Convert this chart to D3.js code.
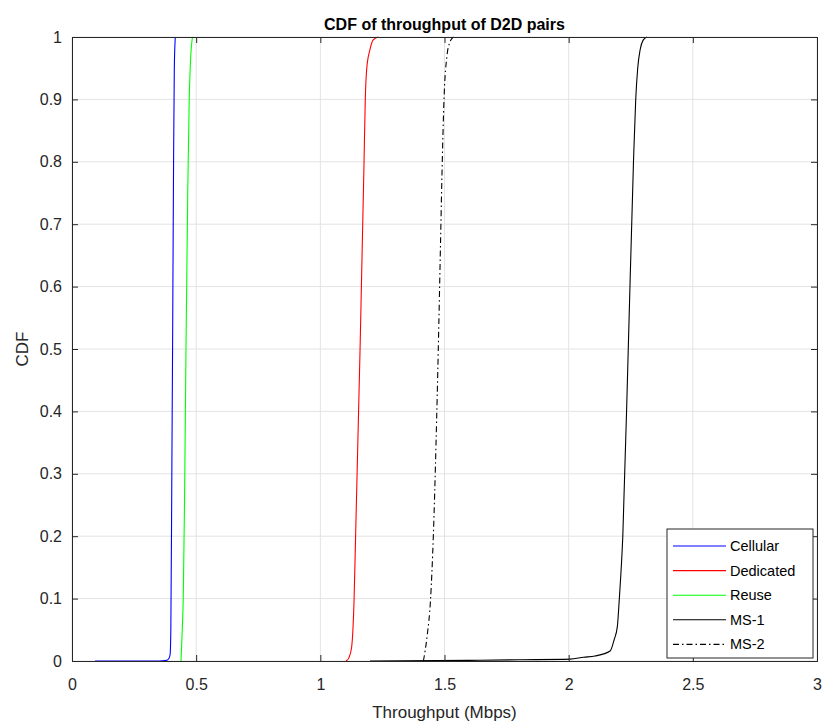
<!DOCTYPE html>
<html>
<head>
<meta charset="utf-8">
<script src="https://cdn.jsdelivr.net/npm/d3@7"></script>
<style>
  body { margin: 0; background: #fff; }
  svg { font-family: "Liberation Sans", Arial, sans-serif; }
</style>
</head>
<body>
<div id="chart"></div>
<script>
// curves: [throughput, cdf]
var cellular = [[0.093, 0], [0.35, 0], [0.38, 0.001], [0.39, 0.004], [0.395, 0.01], [0.398, 0.05],
  [0.402, 0.3], [0.405, 0.5], [0.409, 0.8], [0.412, 0.95], [0.416, 1]]
var reuse = [[0.439, 0], [0.444, 0.05], [0.448, 0.1], [0.453, 0.25], [0.459, 0.5], [0.466, 0.75],
  [0.472, 0.9], [0.477, 0.96], [0.485, 1]]
var dedicated = [[1.103, 0], [1.115, 0.005], [1.126, 0.022], [1.136, 0.1], [1.142, 0.2], [1.151, 0.35],
  [1.160, 0.5], [1.168, 0.65], [1.176, 0.8], [1.181, 0.9], [1.187, 0.95], [1.200, 0.98], [1.212, 0.995], [1.233, 1]]
var ms1 = [[1.2, 0], [1.6, 0.001], [1.8, 0.002], [2.006, 0.003], [2.06, 0.006], [2.106, 0.008], [2.167, 0.016],
  [2.183, 0.034], [2.196, 0.055], [2.204, 0.1], [2.218, 0.2], [2.240, 0.5], [2.261, 0.8], [2.270, 0.9],
  [2.278, 0.95], [2.288, 0.98], [2.30, 0.995], [2.315, 1]]
var ms2 = [[1.415, 0], [1.430, 0.04], [1.444, 0.1], [1.455, 0.2], [1.466, 0.35], [1.475, 0.5], [1.484, 0.67],
  [1.491, 0.8], [1.498, 0.9], [1.51, 0.97], [1.52, 0.99], [1.536, 1]]

var names = ['Cellular', 'Dedicated', 'Reuse', 'MS-1', 'MS-2']
var colors = ['#0000ff', '#ff0000', '#00ff00', '#000000', '#000000']
var dashes = [null, null, null, null, '6,3,1.5,3']
var curves = [cellular, dedicated, reuse, ms1, ms2]

var xTicks = [0, 0.5, 1, 1.5, 2, 2.5, 3]
var yTicks = [0, 0.1, 0.2, 0.3, 0.4, 0.5, 0.6, 0.7, 0.8, 0.9, 1]

var width = 824, height = 727
var margin = { left: 72, right: 7, top: 37, bottom: 66 }

var svg = d3.select('#chart').append('svg')
  .attr('width', width)
  .attr('height', height)

var x = d3.scaleLinear().domain([0, 3]).range([margin.left, width - margin.right])
var y = d3.scaleLinear().domain([0, 1]).range([height - margin.bottom, margin.top])

// grid
svg.append('g').selectAll('line').data(xTicks).enter().append('line')
  .attr('x1', d => x(d)).attr('x2', d => x(d))
  .attr('y1', y(0)).attr('y2', y(1))
  .attr('stroke', '#e3e3e3')
svg.append('g').selectAll('line').data(yTicks).enter().append('line')
  .attr('x1', x(0)).attr('x2', x(3))
  .attr('y1', d => y(d)).attr('y2', d => y(d))
  .attr('stroke', '#e3e3e3')

// curves
var line = d3.line().x(d => x(d[0])).y(d => y(d[1])).curve(d3.curveMonotoneX)
curves.forEach(function (c, i) {
  svg.append('path')
    .attr('d', line(c))
    .attr('fill', 'none')
    .attr('stroke', colors[i])
    .attr('stroke-width', 1.1)
    .attr('stroke-dasharray', dashes[i])
})

// axes (inward ticks, box)
var axisColor = '#262626'
svg.append('g').attr('transform', `translate(0,${y(0)})`)
  .call(d3.axisBottom(x).tickValues(xTicks).tickSize(-6).tickPadding(18).tickFormat(d3.format('')))
svg.append('g').attr('transform', `translate(${x(0)},0)`)
  .call(d3.axisLeft(y).tickValues(yTicks).tickSize(-6).tickPadding(10).tickFormat(d3.format('')))
svg.append('g').attr('transform', `translate(0,${y(1)})`)
  .call(d3.axisTop(x).tickValues(xTicks).tickSize(-6).tickFormat(''))
svg.append('g').attr('transform', `translate(${x(3)},0)`)
  .call(d3.axisRight(y).tickValues(yTicks).tickSize(-6).tickFormat(''))

svg.selectAll('.domain').attr('stroke', axisColor)
svg.selectAll('.tick line').attr('stroke', axisColor)
svg.selectAll('.tick text').attr('fill', axisColor).style('font-size', '16px')
  .style('font-family', '"Liberation Sans", Arial, sans-serif')

// title and labels
svg.append('text')
  .attr('x', x(1.5)).attr('y', 30)
  .attr('text-anchor', 'middle')
  .style('font-size', '16px').style('font-weight', 'bold')
  .text('CDF of throughput of D2D pairs')
svg.append('text')
  .attr('x', x(1.5)).attr('y', 718)
  .attr('text-anchor', 'middle')
  .attr('fill', axisColor)
  .style('font-size', '17px')
  .text('Throughput (Mbps)')
svg.append('text')
  .attr('transform', `translate(28,${y(0.5)}) rotate(-90)`)
  .attr('text-anchor', 'middle')
  .attr('fill', axisColor)
  .style('font-size', '17px')
  .text('CDF')

// legend
var lg = svg.append('g').attr('transform', 'translate(667,529)')
lg.append('rect')
  .attr('width', 146).attr('height', 129)
  .attr('fill', '#fff').attr('stroke', axisColor).attr('stroke-width', 1)
names.forEach(function (n, i) {
  var ly = 17 + i * 24.6
  lg.append('line')
    .attr('x1', 6).attr('x2', 59).attr('y1', ly).attr('y2', ly)
    .attr('stroke', colors[i]).attr('stroke-width', 1.1)
    .attr('stroke-dasharray', dashes[i])
  lg.append('text')
    .attr('x', 63).attr('y', ly + 5)
    .style('font-size', '14.5px')
    .text(n)
})
</script>
</body>
</html>
